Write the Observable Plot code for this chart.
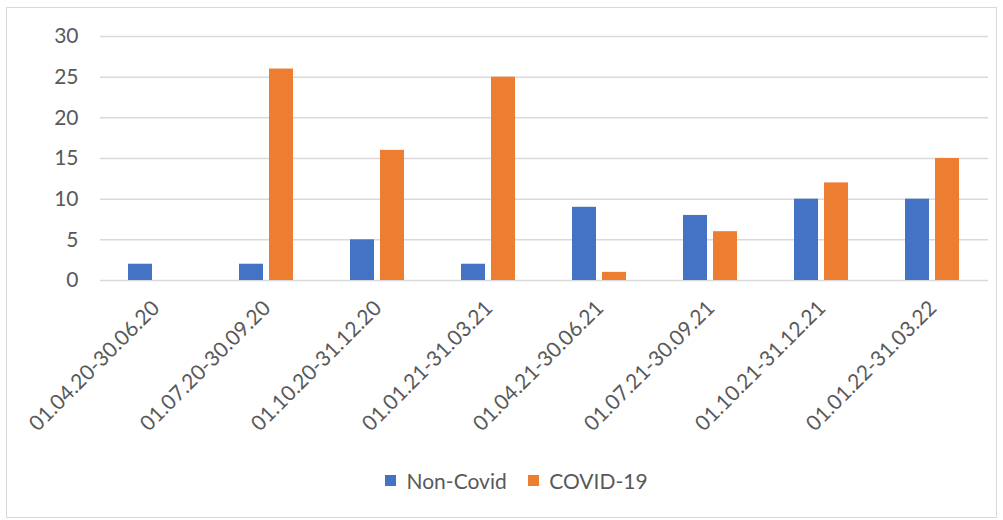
<!DOCTYPE html>
<html><head><meta charset="utf-8">
<script src="https://cdn.jsdelivr.net/npm/d3@7"></script>
<script src="https://cdn.jsdelivr.net/npm/@observablehq/plot@0.6"></script>
<style>
html,body{margin:0;padding:0;background:#fff;}
#wrap{position:relative;width:1003px;height:520px;overflow:hidden;font-family:Lato,sans-serif;}
#border{position:absolute;left:6px;top:7px;width:991px;height:511px;border:1px solid #d9d9d9;box-sizing:border-box;}
#chart{position:absolute;left:0;top:0;}
#legend{position:absolute;left:385px;top:464px;}
</style></head><body>
<div id="wrap"><div id="border"></div><div id="chart"></div><div id="legend"></div></div>
<script>
const periods = ["01.04.20-30.06.20","01.07.20-30.09.20","01.10.20-31.12.20","01.01.21-31.03.21","01.04.21-30.06.21","01.07.21-30.09.21","01.10.21-31.12.21","01.01.22-31.03.22"];
const seriesNames = ["Non-Covid","COVID-19"];
const nonCovid = [2,2,5,2,9,8,10,10];
const covid = [0,26,16,25,1,6,12,15];
const colors = ["#4472C4","#ED7D31"];
const yTicks = [0,5,10,15,20,25,30];
const rows = periods.flatMap((p,i)=>[
  {period:p, series:seriesNames[0], value:nonCovid[i]},
  {period:p, series:seriesNames[1], value:covid[i]}
]);
const chart = Plot.plot({
  width:1003, height:460, marginLeft:100, marginRight:15, marginTop:36, marginBottom:180,
  style:{fontFamily:"Lato, sans-serif", fontSize:"21px", color:"#595959", background:"transparent"},
  fx:{domain:periods, padding:0, label:null, tickRotate:-45, tickSize:0, tickPadding:24},
  x:{domain:seriesNames, paddingInner:0.19, paddingOuter:0.887, axis:null},
  y:{domain:[0,30], label:null},
  color:{domain:seriesNames, range:colors},
  marks:[
    Plot.gridY(yTicks, {stroke:"#d9d9d9", strokeOpacity:1, strokeWidth:1.5}),
    Plot.axisY(yTicks, {tickSize:0, tickPadding:22, label:null, fontSize:21}),
    Plot.barY(rows,{fx:"period", x:"series", y:"value", fill:"series"})
  ]
});
document.getElementById("chart").appendChild(chart);
const legend = Plot.legend({
  color:{domain:seriesNames, range:colors},
  legend:"swatches", swatchSize:11,
  style:{fontFamily:"Lato, sans-serif", fontSize:"21px", color:"#595959"}
});
document.getElementById("legend").appendChild(legend);
</script>
</body></html>
